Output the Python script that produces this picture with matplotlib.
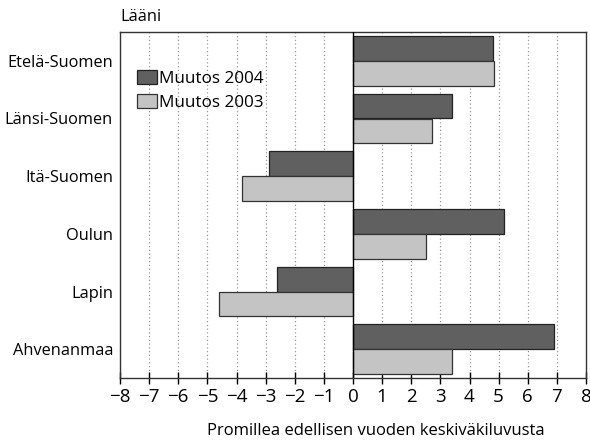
import numpy as np
import matplotlib.pyplot as plt

regions = ['Etelä-Suomen', 'Länsi-Suomen', 'Itä-Suomen', 'Oulun', 'Lapin', 'Ahvenanmaa']
muutos_2004 = [4.8, 3.4, -2.9, 5.2, -2.6, 6.9]
muutos_2003 = [4.85, 2.7, -3.8, 2.5, -4.6, 3.4]

plt.rcParams['font.family'] = ['Open Sans', 'DejaVu Sans']
plt.rcParams['axes.unicode_minus'] = True

fig = plt.figure(figsize=(5.9, 4.41), dpi=100)
ax = fig.add_axes([120 / 590, 1 - 378 / 441, 466 / 590, 346 / 441])

y = np.arange(len(regions))
h = 0.43
ax.barh(y - h / 2, muutos_2004, height=h, color='#606060', edgecolor='#222222',
        linewidth=0.9, label='Muutos 2004', zorder=3)
ax.barh(y + h / 2, muutos_2003, height=h, color='#c4c4c4', edgecolor='#333333',
        linewidth=0.9, label='Muutos 2003', zorder=3)

ax.set_xlim(-8, 8)
ax.set_ylim(len(regions) - 0.5, -0.5)
ax.set_xticks(range(-8, 9))
ax.set_yticks(y, labels=regions)
ax.tick_params(axis='y', length=0, pad=5, labelsize=11.8)
ax.tick_params(axis='x', direction='inout', length=9, width=1, labelsize=13.5, pad=3)

for v in range(-7, 8):
    if v != 0:
        ax.axvline(v, color='#999999', linestyle=(0, (1, 2)), linewidth=0.9, zorder=1)
ax.axvline(0, color='black', linewidth=1, zorder=4)

for s in ax.spines.values():
    s.set_linewidth(1)
    s.set_color('#333333')

ax.set_xlabel('Promillea edellisen vuoden keskiväkiluvusta', fontsize=12, labelpad=9)
ax.xaxis.set_label_coords(0.55, -0.13)
ax.text(0, 1.02, 'Lääni', transform=ax.transAxes, fontsize=11.8, ha='left', va='bottom')

ax.legend(loc='upper left', bbox_to_anchor=(0.01, 0.925), frameon=False, fontsize=12.3,
          handlelength=1.2, handleheight=0.9, handletextpad=0.1, labelspacing=0.4,
          borderaxespad=0.3)

fig.savefig('out.png', dpi=100)
